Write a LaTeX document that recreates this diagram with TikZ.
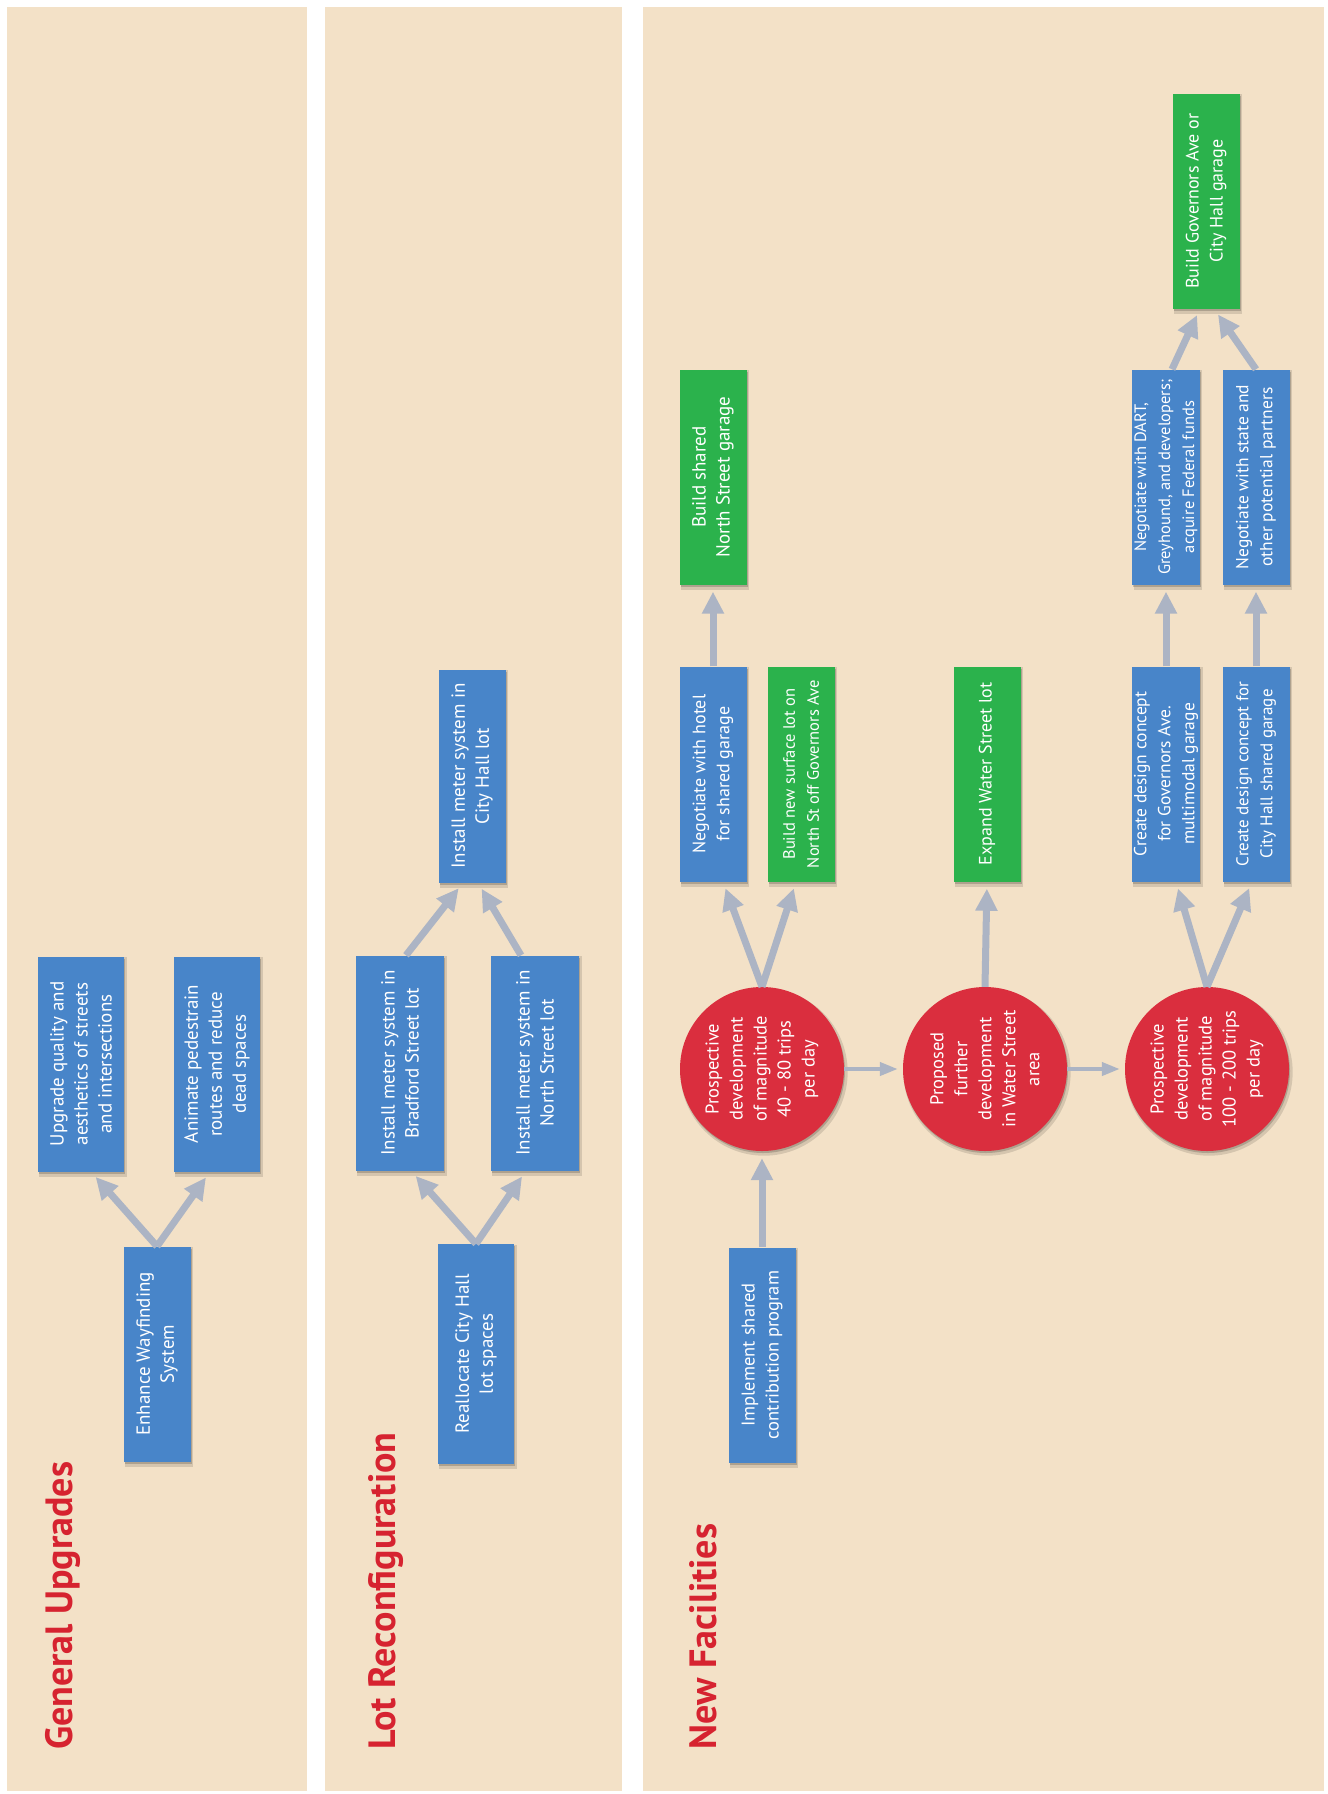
\documentclass[tikz,border=0pt]{standalone}
\usepackage{fontspec}
\setmainfont{PT Sans}
\newfontfamily\titlefont{PT Sans}
\usepackage{tikz}
\usetikzlibrary{shadows,calc,arrows.meta}
\definecolor{panelcream}{RGB}{243,225,199}
\definecolor{boxblue}{RGB}{72,133,201}
\definecolor{boxgreen}{RGB}{43,178,76}
\definecolor{devred}{RGB}{218,46,62}
\definecolor{titlered}{RGB}{214,35,48}
\definecolor{arrowgray}{RGB}{172,180,196}
\pgfmathsetmacro{\boxLen}{215}
\pgfmathsetmacro{\boxThick}{67}
\pgfmathsetmacro{\devSize}{164}
\newcommand{\stepfont}[1]{\fontsize{#1}{24}\selectfont}
\tikzset{
	softshadow/.style= {
		general shadow={shadow xshift=2pt, shadow yshift=-3pt, shadow scale=1.02, fill=black, opacity=0.12},
		general shadow={shadow xshift=1pt, shadow yshift=-2pt, fill=black, opacity=0.18}
	},
	stepbox/.style= {
		shape=rectangle, rotate=90,
		minimum width=\boxLen pt, minimum height=\boxThick pt,
		inner sep=2pt, align=center, text=white,
		fill=boxblue, softshadow,
		font=\stepfont{19}
	},
	donebox/.style= {stepbox, fill=boxgreen},
	devnode/.style= {
		shape=circle, rotate=90,
		minimum size=\devSize pt, inner sep=0pt,
		align=center, text=white, fill=devred, softshadow,
		font=\stepfont{18.5}
	},
	grouptitle/.style= {
		rotate=90, anchor=west, inner sep=0pt,
		text=titlered, font=\titlefont\bfseries\fontsize{38}{42}\selectfont
	},
	conn/.style= {
		draw=arrowgray, line width=7pt,
		-{Triangle[width=21pt,length=22pt]}, shorten >=7pt
	},
	connthin/.style= {
		draw=arrowgray, line width=4pt,
		-{Triangle[width=13pt,length=18pt]}, shorten >=5pt
	}
}

\begin{document}
\begin{tikzpicture}[x=1pt,y=-1pt]
\useasboundingbox (0,0) rectangle (1328,1794);
\fill[white] (0,0) rectangle (1328,1794);
% panels
\foreach \xa/\xb in {7/307,325/622,643/1324}{%
	\fill[panelcream] (\xa,7) rectangle (\xb,1791);
}

% general upgrades
\node[grouptitle] (gutitle) at (63,1750) {General Upgrades};
\node[stepbox] (wayfind) at (157,1354) {Enhance Wayfinding\\System};
\node[stepbox, minimum height=86pt] (streets) at (81,1064) {Upgrade quality and\\aesthetics of streets\\and intersections};
\node[stepbox, minimum height=86pt] (pedestrian) at (217,1064) {Animate pedestrain\\routes and reduce\\dead spaces};
\draw[conn] (wayfind.east) -- ($(streets.west)+(10,0)$);
\draw[conn] (wayfind.east) -- ($(pedestrian.west)+(-7,0)$);

% lot reconfiguration
\node[grouptitle] (lrtitle) at (386,1750) {Lot Reconfiguration};
\node[stepbox, minimum width=220pt, minimum height=76pt] (realloc) at (476,1354) {Reallocate City Hall\\lot spaces};
\node[stepbox, minimum height=88pt] (bradford) at (400,1063) {Install meter system in\\Bradford Street lot};
\node[stepbox, minimum height=88pt] (northlot) at (535,1063) {Install meter system in\\North Street lot};
\node[stepbox, minimum width=213pt] (cityhall) at (472,776) {Install meter system in\\City Hall lot};
\draw[conn] (realloc.east) -- ($(bradford.west)+(11,0)$);
\draw[conn] (realloc.east) -- ($(northlot.west)+(-9,0)$);
\draw[conn] ($(bradford.east)+(6,0)$) -- ($(cityhall.west)+(-9,0)$);
\draw[conn] ($(northlot.east)+(-14,0)$) -- ($(cityhall.west)+(6,0)$);

% new facilities
\node[grouptitle] (nftitle) at (703,1750) {New Facilities};
\node[stepbox, font=\stepfont{18.5}] (contrib) at (762,1355) {Implement shared\\contribution program};
\node[devnode] (devsmall) at (762,1069) {Prospective\\development\\of magnitude\\40 - 80 trips\\per day};
\node[devnode] (devwater) at (985,1069) {Proposed\\further\\development\\in Water Street\\area};
\node[devnode] (devlarge) at (1207,1069) {Prospective\\development\\of magnitude\\100 - 200 trips\\per day};
\node[stepbox, font=\stepfont{18}] (hotel) at (713,774) {Negotiate with hotel\\for shared garage};
\node[donebox, font=\stepfont{16.5}] (surface) at (801,774) {Build new surface lot on\\North St off Governors Ave};
\node[donebox] (nsgarage) at (713,477) {Build shared\\North Street garage};
\node[donebox, font=\stepfont{18}] (waterlot) at (987,774) {Expand Water Street lot};
\node[stepbox, font=\stepfont{17.5}] (govdesign) at (1166,774) {Create design concept\\for Governors Ave.\\multimodal garage};
\node[stepbox, font=\stepfont{17}] (chdesign) at (1256,774) {Create design concept for\\City Hall shared garage};
\node[stepbox, font=\stepfont{16.5}] (dart) at (1166,477) {Negotiate with DART,\\Greyhound, and developers;\\acquire Federal funds};
\node[stepbox, font=\stepfont{17.5}] (partners) at (1256,477) {Negotiate with state and\\other potential partners};
\node[donebox, font=\stepfont{18}] (govgarage) at (1206,201) {Build Governors Ave or\\City Hall garage};

\draw[conn] (contrib.east) -- (devsmall.west);
\draw[conn] (devsmall.east) -- ($(hotel.west)+(10,0)$);
\draw[conn] (devsmall.east) -- ($(surface.west)+(-5,0)$);
\draw[conn] (hotel.east) -- (nsgarage.west);
\draw[connthin] (devsmall.south) -- (devwater.north);
\draw[conn] (devwater.east) -- (waterlot.west);
\draw[connthin] (devwater.south) -- (devlarge.north);
\draw[conn] (devlarge.east) -- ($(govdesign.west)+(10,0)$);
\draw[conn] (devlarge.east) -- ($(chdesign.west)+(-4,0)$);
\draw[conn] (govdesign.east) -- (dart.west);
\draw[conn] (chdesign.east) -- (partners.west);
\draw[conn] ($(dart.east)+(6,0)$) -- ($(govgarage.west)+(-6,0)$);
\draw[conn] (partners.east) -- ($(govgarage.west)+(8,0)$);
\end{tikzpicture}
\end{document}
